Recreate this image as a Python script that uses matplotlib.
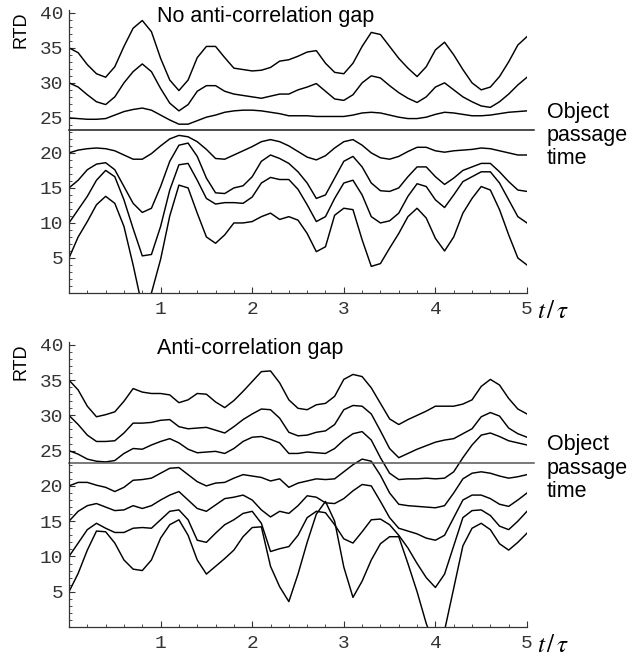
import numpy as np
import matplotlib
matplotlib.use("Agg")
import matplotlib.pyplot as plt
from matplotlib.ticker import MultipleLocator, FixedLocator

plt.rcParams["mathtext.fontset"] = "stix"

# time axis in units of tau
t = np.round(np.arange(0, 5.01, 0.1), 2)

# ---- upper panel: no anti-correlation gap ----
top_a = [35.0, 34.3, 32.6, 31.3, 30.8, 32.3, 35.2, 37.8, 38.9, 37.3, 33.5,
         30.4, 28.9, 30.4, 33.6, 35.2, 35.2, 33.6, 32.1, 31.9, 31.7,
         31.8, 32.2, 33.1, 33.3, 33.8, 34.4, 34.6, 32.8, 31.5, 31.3,
         32.8, 35.2, 37.2, 36.9, 35.2, 33.5, 32.1, 30.9, 32.3, 34.7,
         35.8, 34.0, 31.9, 30.0, 29.0, 29.4, 30.9, 33.0, 35.4, 36.6]
top_b = [30.0, 29.4, 28.3, 27.3, 26.9, 28.0, 30.0, 31.6, 32.7, 31.6, 29.2,
         27.1, 26.0, 26.9, 28.8, 29.6, 29.6, 28.8, 28.4, 28.2, 28.0,
         27.8, 28.1, 28.4, 28.4, 29.0, 29.4, 29.9, 28.8, 27.7, 27.5,
         28.3, 30.0, 31.0, 30.7, 29.6, 28.6, 27.8, 27.2, 28.0, 29.4,
         30.0, 29.0, 28.0, 27.3, 26.7, 26.5, 27.3, 28.4, 29.7, 30.8]
top_c = [25.0, 24.9, 24.8, 24.8, 24.9, 25.4, 25.9, 26.2, 26.4, 26.1, 25.4,
         24.7, 24.1, 24.1, 24.6, 25.1, 25.4, 25.8, 26.0, 26.1, 26.1,
         26.0, 25.8, 25.6, 25.3, 25.3, 25.3, 25.2, 25.2, 25.2, 25.2,
         25.4, 25.7, 25.8, 25.7, 25.4, 25.1, 24.9, 24.9, 25.1, 25.5,
         25.8, 25.7, 25.5, 25.3, 25.3, 25.4, 25.6, 25.8, 25.9, 26.0]
top_d = [20.0, 20.4, 20.6, 20.7, 20.6, 20.3, 19.7, 19.1, 19.1, 19.9, 21.0,
         22.0, 22.5, 22.3, 21.6, 20.5, 19.2, 19.1, 19.7, 20.3, 20.9,
         21.6, 21.9, 21.6, 21.0, 20.2, 19.4, 19.0, 19.6, 20.7, 21.6,
         21.9, 21.1, 20.0, 19.3, 19.1, 19.5, 20.2, 20.8, 20.8, 20.3,
         20.1, 20.3, 20.4, 20.5, 20.7, 20.6, 20.3, 20.0, 19.7, 19.7]
top_e = [15.0, 16.1, 17.6, 18.4, 18.6, 17.6, 15.2, 12.8, 11.5, 12.1, 15.2,
         18.8, 21.1, 21.4, 19.5, 16.4, 14.3, 14.2, 15.0, 15.3, 16.6,
         18.8, 19.7, 19.2, 18.5, 17.3, 15.7, 13.5, 14.0, 16.4, 18.8,
         19.5, 18.0, 15.7, 14.6, 14.5, 15.0, 16.6, 18.0, 18.0, 16.6,
         15.5, 16.4, 17.5, 18.0, 18.5, 18.5, 17.3, 15.9, 14.7, 14.5]
top_f = [10.0, 11.9, 13.8, 16.1, 17.5, 16.6, 13.3, 9.2, 5.3, 5.5, 9.5,
         14.7, 18.3, 18.5, 16.1, 13.5, 12.7, 12.9, 12.9, 12.8, 13.7,
         15.7, 16.5, 16.2, 16.2, 14.8, 12.6, 10.2, 10.9, 13.5, 15.7,
         16.1, 14.0, 10.9, 10.0, 10.3, 11.4, 13.8, 15.6, 15.2, 13.3,
         12.2, 14.0, 15.9, 16.6, 17.3, 17.3, 15.7, 13.3, 10.9, 10.0]
top_g = [5.0, 8.0, 10.2, 12.6, 13.8, 12.8, 9.5, 4.0, -2.0, 0.0, 4.8,
         11.0, 15.4, 15.0, 11.4, 8.0, 7.1, 8.3, 10.0, 10.0, 10.2,
         10.9, 11.4, 10.5, 10.9, 10.4, 8.5, 5.9, 6.6, 11.1, 12.1,
         11.9, 7.6, 3.8, 4.2, 6.4, 8.5, 10.9, 12.1, 10.7, 7.8,
         6.0, 8.0, 11.4, 13.5, 15.2, 14.7, 11.9, 8.3, 5.0, 4.0]

# ---- lower panel: anti-correlation gap ----
bot_a = [35.0, 33.6, 31.3, 29.8, 30.1, 30.5, 32.0, 33.8, 33.3, 33.1, 33.1,
         32.9, 31.8, 32.2, 33.1, 33.0, 31.9, 31.1, 32.1, 33.4, 34.8,
         36.2, 36.3, 34.6, 32.2, 31.0, 30.8, 31.5, 31.7, 32.7, 35.1,
         35.8, 35.5, 33.9, 31.7, 29.5, 28.7, 29.4, 30.0, 30.6, 31.3,
         31.3, 31.3, 31.6, 32.2, 34.1, 35.1, 34.3, 32.4, 30.9, 30.2]
bot_b = [30.0, 28.7, 27.2, 26.3, 26.3, 26.4, 27.5, 28.9, 28.9, 29.0, 29.3,
         29.4, 28.4, 28.1, 28.2, 28.3, 27.9, 27.5, 28.4, 29.4, 30.2,
         30.9, 30.8, 29.6, 27.6, 27.1, 27.2, 27.6, 27.8, 28.7, 30.8,
         31.4, 31.3, 30.2, 27.8, 25.3, 24.0, 24.6, 25.2, 25.7, 26.2,
         26.5, 26.7, 27.4, 28.1, 29.8, 30.4, 29.9, 28.2, 27.4, 26.9]
bot_c = [25.0, 24.5, 23.8, 23.5, 23.4, 23.6, 24.6, 25.3, 25.2, 25.8, 26.3,
         26.7, 26.1, 25.2, 24.7, 24.8, 24.9, 24.6, 25.3, 26.3, 26.9,
         27.0, 26.6, 26.1, 24.6, 24.6, 24.8, 24.7, 24.6, 25.3, 26.5,
         27.4, 27.7, 26.5, 24.0, 21.8, 20.9, 21.0, 21.0, 21.1, 21.0,
         21.1, 22.0, 24.0, 25.8, 27.2, 27.5, 27.0, 26.4, 26.1, 25.8]
bot_d = [20.0, 20.5, 20.5, 20.1, 19.8, 19.2, 19.8, 20.8, 20.9, 21.1, 21.8,
         22.5, 22.6, 21.6, 20.6, 20.0, 20.4, 20.5, 21.1, 21.6, 21.4,
         21.2, 20.7, 21.0, 19.8, 20.4, 20.7, 21.0, 20.9, 21.0, 22.0,
         23.0, 23.8, 23.5, 21.5, 19.0, 17.4, 17.2, 17.1, 17.0, 16.9,
         17.2, 19.0, 21.0, 21.8, 22.0, 21.8, 21.4, 21.1, 21.3, 21.6]
bot_e = [15.0, 16.4, 17.2, 17.5, 17.0, 16.5, 16.6, 17.2, 16.8, 17.2, 18.0,
         18.7, 19.2, 18.0, 16.8, 16.4, 17.3, 18.2, 18.4, 18.7, 18.0,
         16.6, 15.6, 16.4, 16.1, 17.2, 18.6, 18.4, 17.6, 17.5, 18.2,
         19.3, 20.2, 20.0, 17.8, 15.5, 14.0, 13.6, 13.2, 12.6, 12.3,
         13.0, 15.5, 18.0, 18.7, 18.7, 18.2, 17.4, 17.1, 18.0, 19.0]
bot_f = [10.0, 11.9, 13.8, 14.7, 14.0, 13.4, 13.4, 14.0, 14.1, 14.0, 15.2,
         16.4, 16.6, 15.2, 12.3, 12.0, 13.3, 14.5, 15.2, 16.1, 16.4,
         14.7, 10.7, 11.1, 11.4, 13.0, 15.5, 16.4, 16.2, 14.5, 12.5,
         11.9, 13.5, 15.2, 15.3, 14.5, 13.0, 11.2, 9.0, 7.0, 5.6,
         7.5, 11.5, 15.5, 16.5, 16.6, 15.8, 14.3, 13.8, 15.0, 16.4]
bot_g = [5.0, 7.6, 10.9, 13.6, 13.5, 11.9, 9.5, 8.2, 8.0, 9.5, 12.6,
         14.5, 15.2, 13.0, 9.5, 7.5, 8.6, 9.7, 10.9, 12.8, 14.1,
         14.2, 8.6, 5.7, 3.6, 7.5, 12.0, 16.0, 17.8, 15.0, 8.5,
         4.2, 6.5, 9.5, 11.8, 12.8, 12.8, 9.0, 5.0, 0.5, -3.0,
         -0.5, 5.5, 11.5, 14.0, 14.7, 13.8, 11.8, 10.9, 12.0, 13.3]

passage_time = 23.2

panels = [
    dict(series=[top_a, top_b, top_c, top_d, top_e, top_f, top_g],
         title="No anti-correlation gap",
         rect=[69 / 632, 1 - 293 / 658, 458 / 632, 283 / 658],
         line_color="#1a1a1a"),
    dict(series=[bot_a, bot_b, bot_c, bot_d, bot_e, bot_f, bot_g],
         title="Anti-correlation gap",
         rect=[69 / 632, 1 - 627 / 658, 458 / 632, 285 / 658],
         line_color="#555555"),
]

fig = plt.figure(figsize=(6.32, 6.58), dpi=100)
tick_font = dict(family="Liberation Mono", size=14)
sans = "Liberation Sans"

for p in panels:
    ax = fig.add_axes(p["rect"])
    ax.set_xlim(0, 5)
    ax.set_ylim(0, 40.4)
    for s in p["series"]:
        ax.plot(t, s, color="black", lw=1.05, solid_joinstyle="round")
    # object passage time marker, extending a little past the axis end
    ax.plot([0, 5.08], [passage_time, passage_time], color=p["line_color"],
            lw=1.1, clip_on=False)

    for side in ("top", "right"):
        ax.spines[side].set_visible(False)
    for side in ("left", "bottom"):
        ax.spines[side].set_color("#333333")
        ax.spines[side].set_linewidth(0.9)

    ax.xaxis.set_major_locator(FixedLocator([1, 2, 3, 4, 5]))
    ax.xaxis.set_minor_locator(MultipleLocator(0.2))
    ax.yaxis.set_major_locator(FixedLocator([5, 10, 15, 20, 25, 30, 35, 40]))
    ax.yaxis.set_minor_locator(MultipleLocator(1))
    ax.tick_params(which="major", direction="in", length=4, width=0.8,
                   color="#333333")
    ax.tick_params(which="minor", direction="in", length=2, width=0.6,
                   color="#333333")
    ax.tick_params(axis="x", which="major", pad=6)
    ax.tick_params(axis="y", which="major", pad=4)
    for lab in ax.get_xticklabels() + ax.get_yticklabels():
        lab.set_fontfamily(tick_font["family"])
        lab.set_fontsize(tick_font["size"])
        lab.set_color("#333333")

    x0, y0, w, h = p["rect"]
    top_px = (1 - (y0 + h)) * 658
    # panel title
    fig.text(157 / 632, 1 - (top_px + 12) / 658, p["title"], family=sans,
             fontsize=15.5, va="baseline", ha="left")
    # vertical axis label
    fig.text(21 / 632, 1 - (top_px + 20) / 658, "RTD", family=sans,
             fontsize=13, rotation=90, ha="center", va="center")
    # passage time label
    yline = y0 * 658 + passage_time / 40.4 * h * 658
    fig.text(547 / 632, (yline - 5) / 658, "Object\npassage\ntime",
             family=sans, fontsize=15.5, ha="left", va="center",
             linespacing=1.15)
    # horizontal axis label
    fig.text(537 / 632, (y0 * 658 - 25) / 658, r"$t\,/\,\tau$",
             fontsize=18, ha="left", va="baseline")

fig.savefig("out.png", dpi=100)
